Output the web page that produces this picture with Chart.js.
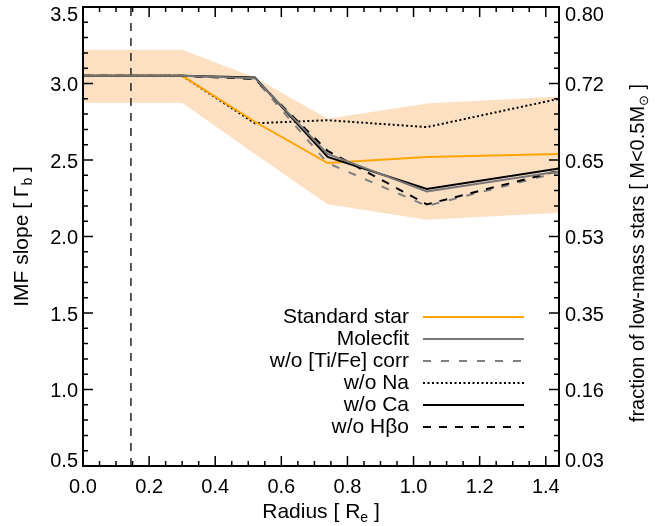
<!DOCTYPE html>
<html>
<head>
<meta charset="utf-8">
<script src="https://cdn.jsdelivr.net/npm/chart.js@4.4.1/dist/chart.umd.min.js"></script>
<style>
  html, body { margin: 0; padding: 0; background: #fff; }
  #wrap { width: 670px; height: 526px; }
</style>
</head>
<body>
<div id="wrap"><canvas id="imfChart"></canvas></div>
<script>
// ====== DATA ======
const radius       = [0.0, 0.3, 0.52, 0.74, 1.04, 1.44];
const standardStar = [3.05, 3.05, 2.75, 2.48, 2.52, 2.54];
const molecfit     = [3.05, 3.05, 3.035, 2.54, 2.295, 2.425];
const noTiFe       = [3.05, 3.05, 3.03, 2.48, 2.20, 2.42];
const noNa         = [3.05, 3.05, 2.74, 2.76, 2.715, 2.90];
const noCa         = [3.05, 3.05, 3.04, 2.52, 2.31, 2.445];
const noHbeta      = [3.05, 3.05, 3.03, 2.56, 2.21, 2.43];
const bandUpper    = [3.22, 3.22, 3.04, 2.77, 2.87, 2.915];
const bandLower    = [2.875, 2.875, 2.54, 2.21, 2.11, 2.155];
const effRadius    = 0.145;          // vertical dashed line
const yRange       = [0.5, 3.5];
const fractionLabels = ['0.03', '0.16', '0.35', '0.53', '0.65', '0.72', '0.80'];

const pts = (ys) => radius.map((r, i) => ({ x: r, y: ys[i] }));
const FONT = '"Liberation Sans", Arial, sans-serif';

function line(label, ys, color, dash, order) {
  return {
    label, data: pts(ys), borderColor: color, borderWidth: 2,
    borderDash: dash, pointRadius: 0, fill: false, tension: 0, order,
  };
}

const datasets = [
  line('Standard star', standardStar, '#FFA500', [], 2),
  line('Molecfit', molecfit, '#777777', [], 0),
  line('w/o [Ti/Fe] corr', noTiFe, '#808080', [8, 10], 3),
  line('w/o Na', noNa, '#000000', [2, 2.5], 4),
  line('w/o Ca', noCa, '#000000', [], 1),
  line('w/o H\u03B2o', noHbeta, '#000000', [8, 8], 2),
  {
    label: 're', hideInLegend: true, order: 5,
    data: yRange.map(v => ({ x: effRadius, y: v })),
    borderColor: '#222', borderWidth: 1.5, borderDash: [8, 7], pointRadius: 0, fill: false,
  },
  {
    label: 'band-hi', hideInLegend: true, order: 10, data: pts(bandUpper),
    borderWidth: 0, borderColor: 'rgba(0,0,0,0)', pointRadius: 0,
    fill: '+1', backgroundColor: 'rgb(253,223,194)',
  },
  {
    label: 'band-lo', hideInLegend: true, order: 11, data: pts(bandLower),
    borderWidth: 0, borderColor: 'rgba(0,0,0,0)', pointRadius: 0, fill: false,
  },
];

/* ====== HELPERS ====== */
function drawRich(ctx, parts, cx, cy, angle, size) {
  const big = size + 'px ' + FONT, small = Math.round(size * 0.67) + 'px ' + FONT;
  ctx.save();
  ctx.translate(cx, cy);
  ctx.rotate(angle);
  let total = 0;
  parts.forEach(p => { ctx.font = p.sub ? small : big; total += ctx.measureText(p.t).width; });
  let xx = -total / 2;
  ctx.textBaseline = 'middle';
  ctx.textAlign = 'left';
  ctx.fillStyle = '#000';
  parts.forEach(p => {
    ctx.font = p.sub ? small : big;
    ctx.fillText(p.t, xx, p.sub ? 6 : 0);
    xx += ctx.measureText(p.t).width;
  });
  ctx.restore();
}

// frame with inward ticks on all four sides
const framePlugin = {
  id: 'frame',
  afterDatasetsDraw(chart) {
    const { ctx, chartArea: a } = chart;
    const x = chart.scales.x, y = chart.scales.y;
    ctx.save();
    ctx.strokeStyle = '#000';
    ctx.lineWidth = 1.5;
    ctx.beginPath();
    for (let i = 0; i * 0.05 <= x.max + 1e-9; i++) {
      const px = x.getPixelForValue(i * 0.05);
      const len = i % 4 === 0 ? 10 : 5;
      ctx.moveTo(px, a.bottom); ctx.lineTo(px, a.bottom - len);
      ctx.moveTo(px, a.top); ctx.lineTo(px, a.top + len);
    }
    for (let i = 5; i <= 35; i++) {
      const py = y.getPixelForValue(i / 10);
      const len = i % 5 === 0 ? 10 : 5;
      ctx.moveTo(a.left, py); ctx.lineTo(a.left + len, py);
      ctx.moveTo(a.right, py); ctx.lineTo(a.right - len, py);
    }
    ctx.stroke();
    ctx.lineWidth = 2;
    ctx.strokeRect(a.left, a.top, a.right - a.left, a.bottom - a.top);
    ctx.restore();
  },
  afterDraw(chart) {
    const { ctx, chartArea: a } = chart;
    const midY = (a.top + a.bottom) / 2;
    drawRich(ctx, [{ t: 'IMF slope [ \u0393' }, { t: 'b', sub: true }, { t: ' ]' }], 22, midY, -Math.PI / 2, 21);
    drawRich(ctx, [{ t: 'fraction of low-mass stars [ M<0.5M' }, { t: '\u2299', sub: true }, { t: ' ]' }], 638, 253, -Math.PI / 2, 20);
    drawRich(ctx, [{ t: 'Radius [ R' }, { t: 'e', sub: true }, { t: ' ]' }], (a.left + a.right) / 2, 512, 0, 21);
  },
};

// legend: text right-aligned, sample line to its right
const legendPlugin = {
  id: 'sideLegend',
  afterDatasetsDraw(chart) {
    const { ctx } = chart;
    const items = chart.data.datasets.filter(d => !d.hideInLegend);
    ctx.save();
    ctx.font = '21px ' + FONT;
    ctx.textAlign = 'right';
    ctx.textBaseline = 'middle';
    items.forEach((d, i) => {
      const yy = 317 + i * 22;
      ctx.fillStyle = '#000';
      ctx.fillText(d.label, 409, yy);
      ctx.strokeStyle = d.borderColor;
      ctx.lineWidth = 2;
      ctx.setLineDash(d.borderDash || []);
      ctx.beginPath();
      ctx.moveTo(423, yy);
      ctx.lineTo(524, yy);
      ctx.stroke();
    });
    ctx.restore();
  },
};

function fixSize(prop, val) {
  return (scale) => {
    scale[prop] = val;
    scale.paddingTop = 0; scale.paddingBottom = 0;
    scale.paddingLeft = 0; scale.paddingRight = 0;
  };
}

// nudge the end labels inward, like the original plot does
function edgeLabel(text, i, n) {
  if (i === n - 1) return ['', text];
  if (i === 0) return [text, ''];
  return text;
}

const xFont = { family: FONT, size: 20 };
const yFont = { family: FONT, size: 20, lineHeight: '13px' };

new Chart(document.getElementById('imfChart'), {
  type: 'line',
  data: { datasets },
  options: {
    responsive: true,
    maintainAspectRatio: false,
    animation: false,
    layout: { padding: { top: 7, left: 0, right: 0, bottom: 0 } },
    plugins: { legend: { display: false }, tooltip: { enabled: false } },
    scales: {
      x: {
        type: 'linear', min: 0, max: 1.44,
        grid: { display: false, drawTicks: false }, border: { display: false },
        ticks: { stepSize: 0.2, includeBounds: false, color: '#000', font: xFont, padding: 9,
                 maxRotation: 0, autoSkip: false, callback: v => v.toFixed(1) },
        afterFit: fixSize('height', 60),
      },
      y: {
        type: 'linear', position: 'left', min: yRange[0], max: yRange[1],
        grid: { display: false, drawTicks: false }, border: { display: false },
        ticks: { stepSize: 0.5, color: '#000', font: yFont, padding: 5, labelOffset: 2, autoSkip: false,
                 callback: (v, i, all) => edgeLabel(v.toFixed(1), i, all.length) },
        afterFit: fixSize('width', 83),
      },
      y2: {
        type: 'linear', position: 'right', min: yRange[0], max: yRange[1],
        grid: { display: false, drawTicks: false }, border: { display: false },
        ticks: { stepSize: 0.5, color: '#000', font: yFont, padding: 6, labelOffset: 2, autoSkip: false,
                 callback: (v, i, all) => edgeLabel(fractionLabels[i], i, all.length) },
        afterFit: fixSize('width', 111),
      },
    },
  },
  plugins: [framePlugin, legendPlugin],
});
</script>
</body>
</html>
